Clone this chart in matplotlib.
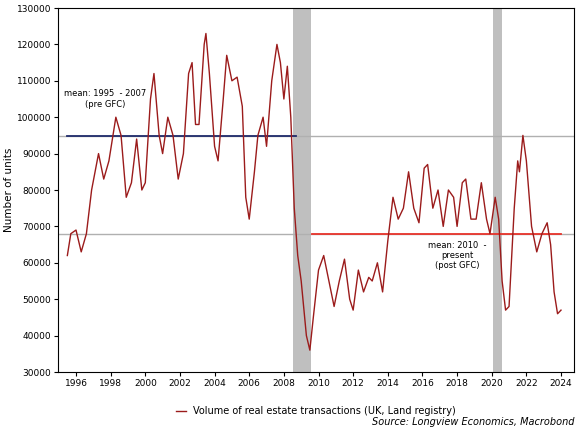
import matplotlib
matplotlib.use("Agg")
import matplotlib.pyplot as plt

years = [1995.5,1995.7,1996.0,1996.3,1996.6,1996.9,1997.3,1997.6,1997.9,1998.3,1998.6,1998.9,1999.2,1999.5,1999.8,2000.0,2000.3,2000.5,2000.8,2001.0,2001.3,2001.6,2001.9,2002.2,2002.5,2002.7,2002.9,2003.1,2003.4,2003.5,2003.7,2004.0,2004.2,2004.5,2004.7,2005.0,2005.3,2005.6,2005.8,2006.0,2006.3,2006.5,2006.8,2007.0,2007.3,2007.6,2007.8,2008.0,2008.2,2008.4,2008.6,2008.8,2009.0,2009.3,2009.5,2009.7,2010.0,2010.3,2010.6,2010.9,2011.2,2011.5,2011.8,2012.0,2012.3,2012.6,2012.9,2013.1,2013.4,2013.7,2014.0,2014.3,2014.6,2014.9,2015.2,2015.5,2015.8,2016.1,2016.3,2016.6,2016.9,2017.2,2017.5,2017.8,2018.0,2018.3,2018.5,2018.8,2019.1,2019.4,2019.7,2019.9,2020.2,2020.4,2020.6,2020.8,2021.0,2021.3,2021.5,2021.6,2021.8,2022.0,2022.3,2022.6,2022.9,2023.2,2023.4,2023.6,2023.8,2024.0]
values = [62000,68000,69000,63000,68000,80000,90000,83000,88000,100000,95000,78000,82000,94000,80000,82000,105000,112000,95000,90000,100000,95000,83000,90000,112000,115000,98000,98000,120000,123000,112000,92000,88000,105000,117000,110000,111000,103000,78000,72000,85000,95000,100000,92000,110000,120000,115000,105000,114000,100000,75000,62000,55000,40000,36000,45000,58000,62000,55000,48000,55000,61000,50000,47000,58000,52000,56000,55000,60000,52000,66000,78000,72000,75000,85000,75000,71000,86000,87000,75000,80000,70000,80000,78000,70000,82000,83000,72000,72000,82000,72000,68000,78000,72000,55000,47000,48000,75000,88000,85000,95000,88000,70000,63000,68000,71000,65000,52000,46000,47000]
recessions = [(2008.5, 2009.55), (2020.1, 2020.6)]
mean_pre = 94800
mean_post = 67800

fig = plt.figure(figsize=(5.86, 4.40), dpi=100)
ax = fig.add_axes([58/586, 1-372/440, (574-58)/586, (372-8)/440])
for a, b in recessions:
    ax.axvspan(a, b, color="#bfbfbf", lw=0)
ax.axhline(mean_pre, color="#b0b0b0", lw=1)
ax.axhline(mean_post, color="#b0b0b0", lw=1)
ax.plot([1995.5, 2008.7], [mean_pre]*2, color="#1f2a6b", lw=1.3)
ax.plot([2009.6, 2024.0], [mean_post]*2, color="#e8332a", lw=1.3)
ax.plot(years, values, color="#9b1b1b", lw=1, label="Volume of real estate transactions (UK, Land registry)")
ax.set_xlim(1994.96, 2024.75)
ax.set_ylim(30000, 130000)
ax.set_xticks(range(1996, 2025, 2))
ax.set_yticks(range(30000, 130001, 10000))
ax.tick_params(labelsize=6.5, direction="out", length=3, pad=2)
ax.set_ylabel("Number of units", fontsize=7.5)
ax.yaxis.set_label_coords(-0.085, 0.5)
ax.text(1997.7, 105000, "mean: 1995  - 2007\n(pre GFC)", fontsize=6, ha="center", va="center")
ax.text(2018.0, 62000, "mean: 2010  -\npresent\n(post GFC)", fontsize=6, ha="center", va="center")
ax.legend(loc="upper center", bbox_to_anchor=(0.5, -0.07), frameon=False, fontsize=7, handlelength=1)
fig.text(574/586, 1-425/440, "Source: Longview Economics, Macrobond", fontsize=7, style="italic", ha="right")
fig.savefig("out.png", dpi=100)
